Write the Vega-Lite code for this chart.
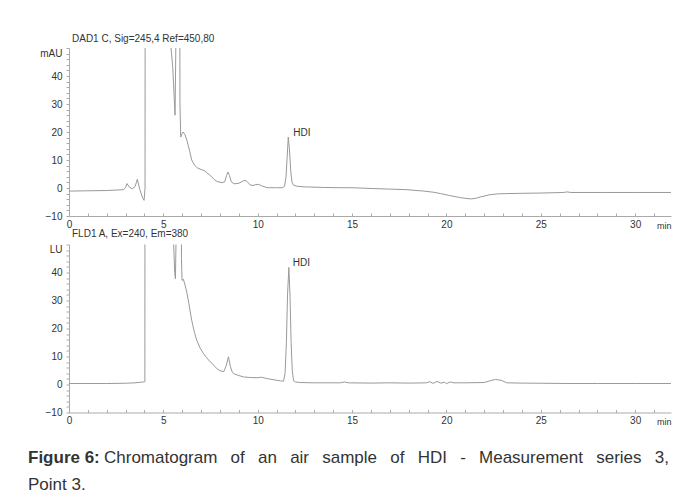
{
  "$schema": "https://vega.github.io/schema/vega-lite/v6.json",
  "padding": {"left": 28, "top": 33, "right": 5, "bottom": 5},
  "background": "white",
  "config": {
    "view": {"stroke": null},
    "font": "Liberation Sans",
    "axis": {"grid": false, "domainColor": "#aaaaaa", "tickColor": "#aaaaaa", "labelColor": "#333333", "labelFontSize": 10, "labelFont": "Liberation Sans", "labelFlush": false}
  },
  "datasets": {
    "dad": [
      {"t": 0, "v": -1.1}, {"t": 1, "v": -1.0}, {"t": 2, "v": -0.9}, {"t": 2.9, "v": -0.6}, {"t": 3.0, "v": 0.2},
      {"t": 3.07, "v": 1.6}, {"t": 3.2, "v": 0.3}, {"t": 3.35, "v": -0.3}, {"t": 3.5, "v": 0.5}, {"t": 3.62, "v": 3.1},
      {"t": 3.75, "v": -0.5}, {"t": 3.9, "v": -3.5}, {"t": 3.98, "v": -4.4}, {"t": 4.03, "v": 0}, {"t": 4.06, "v": 400},
      {"t": 5.2, "v": 400}, {"t": 5.38, "v": 52}, {"t": 5.5, "v": 43}, {"t": 5.62, "v": 26}, {"t": 5.66, "v": 50},
      {"t": 5.72, "v": 200}, {"t": 5.84, "v": 200}, {"t": 5.88, "v": 30}, {"t": 5.92, "v": 18.2}, {"t": 6.0, "v": 19.5},
      {"t": 6.05, "v": 20}, {"t": 6.15, "v": 19}, {"t": 6.25, "v": 17}, {"t": 6.4, "v": 13}, {"t": 6.5, "v": 10},
      {"t": 6.65, "v": 8.2}, {"t": 6.8, "v": 7.2}, {"t": 7.0, "v": 6.6}, {"t": 7.15, "v": 6.3}, {"t": 7.3, "v": 5.5},
      {"t": 7.5, "v": 4.4}, {"t": 7.7, "v": 3.0}, {"t": 7.85, "v": 2.3}, {"t": 8.1, "v": 1.9}, {"t": 8.25, "v": 2.2},
      {"t": 8.35, "v": 4.5}, {"t": 8.42, "v": 5.7}, {"t": 8.5, "v": 4.5}, {"t": 8.6, "v": 2.2}, {"t": 8.75, "v": 1.5},
      {"t": 9.0, "v": 1.7}, {"t": 9.2, "v": 2.4}, {"t": 9.33, "v": 2.8}, {"t": 9.45, "v": 2.2}, {"t": 9.6, "v": 1.1},
      {"t": 9.75, "v": 0.9}, {"t": 9.9, "v": 1.2}, {"t": 10.05, "v": 1.3}, {"t": 10.2, "v": 0.8}, {"t": 10.5, "v": 0.1},
      {"t": 11.0, "v": 0.1}, {"t": 11.3, "v": 0.1}, {"t": 11.42, "v": 0.6}, {"t": 11.5, "v": 4}, {"t": 11.56, "v": 11},
      {"t": 11.62, "v": 18.2}, {"t": 11.68, "v": 14}, {"t": 11.75, "v": 6}, {"t": 11.82, "v": 2}, {"t": 11.9, "v": 1},
      {"t": 12.1, "v": 0.6}, {"t": 12.5, "v": 0.4}, {"t": 13.5, "v": 0.2}, {"t": 14.4, "v": 0.1}, {"t": 15.0, "v": 0.1},
      {"t": 16.1, "v": -0.2}, {"t": 17.0, "v": -0.4}, {"t": 17.9, "v": -0.6}, {"t": 18.8, "v": -1.1}, {"t": 19.3, "v": -1.5},
      {"t": 19.7, "v": -2.0}, {"t": 20.1, "v": -2.6}, {"t": 20.4, "v": -3.0}, {"t": 20.8, "v": -3.5}, {"t": 21.27, "v": -3.9},
      {"t": 21.55, "v": -3.7}, {"t": 21.8, "v": -3.2}, {"t": 22.3, "v": -2.4}, {"t": 22.7, "v": -2.1}, {"t": 23.2, "v": -2.0},
      {"t": 24.0, "v": -1.9}, {"t": 25.0, "v": -1.8}, {"t": 26.2, "v": -1.6}, {"t": 26.4, "v": -1.4}, {"t": 26.6, "v": -1.6},
      {"t": 28.5, "v": -1.6}, {"t": 30.0, "v": -1.6}, {"t": 31.9, "v": -1.6}
    ],
    "fld": [
      {"t": 0, "v": 0.35}, {"t": 1, "v": 0.35}, {"t": 2, "v": 0.35}, {"t": 3, "v": 0.45}, {"t": 3.5, "v": 0.6},
      {"t": 3.94, "v": 0.9}, {"t": 4.02, "v": 1.0}, {"t": 4.05, "v": 400}, {"t": 5.4, "v": 400}, {"t": 5.52, "v": 55},
      {"t": 5.6, "v": 40}, {"t": 5.64, "v": 37.8}, {"t": 5.68, "v": 55}, {"t": 5.75, "v": 300}, {"t": 5.9, "v": 300},
      {"t": 5.96, "v": 45}, {"t": 5.99, "v": 37.2}, {"t": 6.06, "v": 37.6}, {"t": 6.15, "v": 35.5}, {"t": 6.24, "v": 33},
      {"t": 6.35, "v": 29}, {"t": 6.5, "v": 23}, {"t": 6.65, "v": 18.5}, {"t": 6.77, "v": 15.8}, {"t": 6.95, "v": 13},
      {"t": 7.13, "v": 11}, {"t": 7.3, "v": 9.5}, {"t": 7.48, "v": 8.1}, {"t": 7.6, "v": 7.5}, {"t": 7.66, "v": 6.9},
      {"t": 7.85, "v": 5.6}, {"t": 8.01, "v": 4.9}, {"t": 8.2, "v": 4.6}, {"t": 8.32, "v": 6.5}, {"t": 8.45, "v": 9.9},
      {"t": 8.55, "v": 6.5}, {"t": 8.65, "v": 4.4}, {"t": 8.75, "v": 3.8}, {"t": 9.0, "v": 3.2}, {"t": 9.25, "v": 2.7},
      {"t": 9.6, "v": 2.5}, {"t": 9.96, "v": 2.4}, {"t": 10.2, "v": 2.6}, {"t": 10.5, "v": 2.1}, {"t": 11.02, "v": 1.5},
      {"t": 11.2, "v": 1.3}, {"t": 11.37, "v": 1.2}, {"t": 11.45, "v": 4}, {"t": 11.52, "v": 15}, {"t": 11.58, "v": 32},
      {"t": 11.65, "v": 41.8}, {"t": 11.71, "v": 32}, {"t": 11.77, "v": 15}, {"t": 11.83, "v": 5}, {"t": 11.9, "v": 1.3},
      {"t": 12.0, "v": 0.9}, {"t": 12.25, "v": 0.7}, {"t": 13.0, "v": 0.6}, {"t": 14.38, "v": 0.6}, {"t": 14.6, "v": 0.9},
      {"t": 14.8, "v": 0.6}, {"t": 16, "v": 0.5}, {"t": 17, "v": 0.6}, {"t": 18, "v": 0.5}, {"t": 18.95, "v": 0.6},
      {"t": 19.1, "v": 1.0}, {"t": 19.3, "v": 0.4}, {"t": 19.5, "v": 1.1}, {"t": 19.7, "v": 0.5}, {"t": 19.9, "v": 0.8},
      {"t": 20.0, "v": 0.3}, {"t": 20.2, "v": 0.9}, {"t": 20.4, "v": 0.6}, {"t": 21.0, "v": 0.6}, {"t": 22.0, "v": 0.7},
      {"t": 22.3, "v": 1.3}, {"t": 22.6, "v": 1.8}, {"t": 22.9, "v": 1.5}, {"t": 23.2, "v": 0.6}, {"t": 24, "v": 0.5},
      {"t": 25, "v": 0.45}, {"t": 26.6, "v": 0.35}, {"t": 28, "v": 0.35}, {"t": 30, "v": 0.35}, {"t": 31.9, "v": 0.35}
    ],
    "dadpeak": [{"t": 11.62, "v": 18.2, "label": "HDI"}],
    "fldpeak": [{"t": 11.65, "v": 41.8, "label": "HDI"}]
  },
  "title": {"text": "Chromatogram\u2002 of\u2002 an\u2002 air\u2002 sample\u2002 of\u2002 HDI\u2002 -\u2002 Measurement\u2002 series\u2002 3,", "orient": "bottom", "anchor": "start", "frame": "group", "fontSize": 17, "fontWeight": "normal", "color": "#333333", "font": "Liberation Sans", "dx": 35, "offset": -43},
  "vconcat": [
    {
      "title": {"text": "Figure 6:", "subtitle": "Point 3.", "orient": "bottom", "anchor": "start", "frame": "group", "fontSize": 17, "fontWeight": "bold", "color": "#333333", "font": "Liberation Sans", "subtitleFontSize": 17, "subtitleColor": "#333333", "subtitleFont": "Liberation Sans", "subtitlePadding": 10, "dx": -41, "offset": 23},
      "bounds": "flush",
      "spacing": 28.5,
      "vconcat": [
        {
          "width": 602, "height": 168,
          "title": {"text": "DAD1 C, Sig=245,4 Ref=450,80", "anchor": "start", "frame": "group", "dx": 3, "fontSize": 10, "fontWeight": "normal", "color": "#333333", "offset": -4, "baseline": "alphabetic"},
          "resolve": {"axis": {"x": "independent", "y": "independent"}},
          "layer": [
            {
              "data": {"name": "dad"},
              "mark": {"type": "line", "clip": true, "color": "#999999", "strokeWidth": 1},
              "encoding": {
                "x": {"field": "t", "type": "quantitative", "scale": {"domain": [0, 31.9], "nice": false, "zero": false},
                  "axis": {"orient": "bottom", "values": [0, 5, 10, 15, 20, 25, 30], "ticks": false, "labelPadding": 3, "title": "min", "titleX": 602, "titleY": 12, "titleAlign": "right", "titleBaseline": "alphabetic", "titleFontSize": 9, "titleFontWeight": "normal", "titleColor": "#333333"}},
                "y": {"field": "v", "type": "quantitative", "scale": {"domain": [-10, 50], "nice": false, "zero": false},
                  "axis": {"orient": "left", "values": [-10, 0, 10, 20, 30, 40, 50], "labelExpr": "datum.value === 50 ? 'mAU' : datum.label", "labelBaseline": {"condition": {"test": "datum.value === 50", "value": "top"}, "value": "middle"}, "ticks": false, "labelPadding": 7, "title": null}}
              }
            },
            {
              "data": {"name": "dadpeak"},
              "mark": {"type": "text", "align": "left", "baseline": "alphabetic", "dx": 5, "dy": -1, "fontSize": 10, "color": "#333333"},
              "encoding": {
                "x": {"field": "t", "type": "quantitative",
                  "axis": {"orient": "bottom", "values": [0,1,2,3,4,5,6,7,8,9,10,11,12,13,14,15,16,17,18,19,20,21,22,23,24,25,26,27,28,29,30,31], "labels": false, "domain": false, "tickSize": -3, "title": null}},
                "y": {"field": "v", "type": "quantitative",
                  "axis": {"orient": "left", "values": [-10,-8,-6,-4,-2,0,2,4,6,8,10,12,14,16,18,20,22,24,26,28,30,32,34,36,38,40,42,44,46,48,50], "labels": false, "domain": false, "tickSize": 3, "title": null}},
                "text": {"field": "label"}
              }
            }
          ]
        },
        {
          "width": 602, "height": 168,
          "title": {"text": "FLD1 A, Ex=240, Em=380", "anchor": "start", "frame": "group", "dx": 3, "fontSize": 10, "fontWeight": "normal", "color": "#333333", "offset": -3, "baseline": "alphabetic"},
          "resolve": {"axis": {"x": "independent", "y": "independent"}},
          "layer": [
            {
              "data": {"name": "fld"},
              "mark": {"type": "line", "clip": true, "color": "#999999", "strokeWidth": 1},
              "encoding": {
                "x": {"field": "t", "type": "quantitative", "scale": {"domain": [0, 31.9], "nice": false, "zero": false},
                  "axis": {"orient": "bottom", "values": [0, 5, 10, 15, 20, 25, 30], "ticks": false, "labelPadding": 3, "title": "min", "titleX": 602, "titleY": 12, "titleAlign": "right", "titleBaseline": "alphabetic", "titleFontSize": 9, "titleFontWeight": "normal", "titleColor": "#333333"}},
                "y": {"field": "v", "type": "quantitative", "scale": {"domain": [-10, 50], "nice": false, "zero": false},
                  "axis": {"orient": "left", "values": [-10, 0, 10, 20, 30, 40, 50], "labelExpr": "datum.value === 50 ? 'LU' : datum.label", "labelBaseline": {"condition": {"test": "datum.value === 50", "value": "top"}, "value": "middle"}, "ticks": false, "labelPadding": 7, "title": null}}
              }
            },
            {
              "data": {"name": "fldpeak"},
              "mark": {"type": "text", "align": "left", "baseline": "alphabetic", "dx": 4, "dy": -1, "fontSize": 10, "color": "#333333"},
              "encoding": {
                "x": {"field": "t", "type": "quantitative",
                  "axis": {"orient": "bottom", "values": [0,1,2,3,4,5,6,7,8,9,10,11,12,13,14,15,16,17,18,19,20,21,22,23,24,25,26,27,28,29,30,31], "labels": false, "domain": false, "tickSize": -3, "title": null}},
                "y": {"field": "v", "type": "quantitative",
                  "axis": {"orient": "left", "values": [-10,-8,-6,-4,-2,0,2,4,6,8,10,12,14,16,18,20,22,24,26,28,30,32,34,36,38,40,42,44,46,48,50], "labels": false, "domain": false, "tickSize": 3, "title": null}},
                "text": {"field": "label"}
              }
            }
          ]
        }
      ]
    }
  ]
}
